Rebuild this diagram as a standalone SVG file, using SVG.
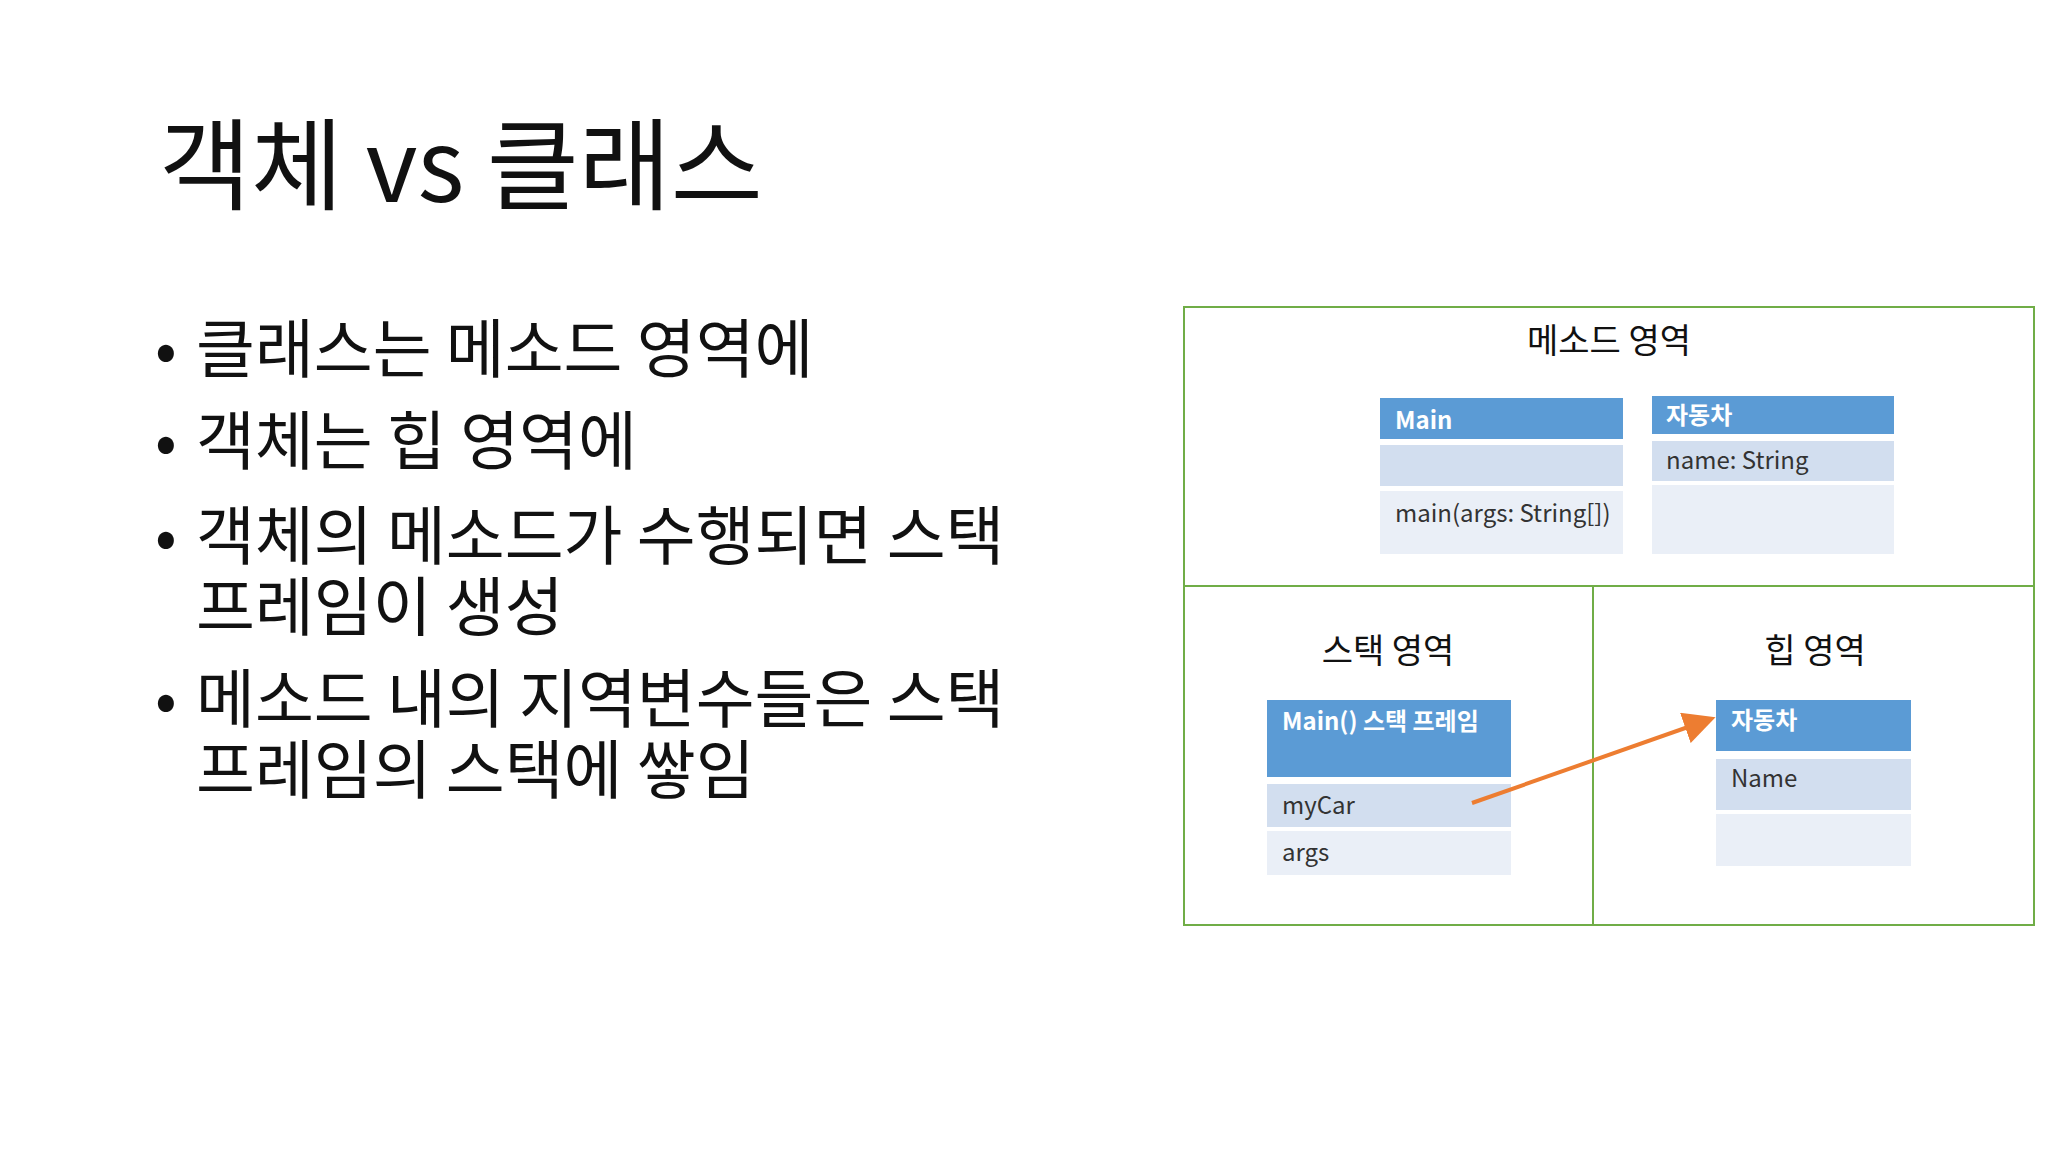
<svg xmlns="http://www.w3.org/2000/svg" width="2048" height="1152" viewBox="0 0 2048 1152">
<style>
text{font-family:"Noto Sans CJK KR","Noto Sans",sans-serif;}
.t{font-size:100px;fill:#111}
.b{font-size:64px;fill:#111}
.a{font-size:34px;fill:#111;text-anchor:middle}
.h{fill:#5B9BD5}
.r1{fill:#D2DEEF}
.r2{fill:#EAEFF7}
.ht{font-size:24px;fill:#fff;font-weight:bold}
.rt{font-size:24px;fill:#333}
.ln{stroke:#70AD47;stroke-width:2;fill:none}
</style>
<defs><marker id="ar" markerWidth="8" markerHeight="8" refX="6" refY="4" orient="auto" markerUnits="strokeWidth"><path d="M0,0L8,4L0,8z" fill="#ED7D31"/></marker></defs>
<rect width="2048" height="1152" fill="#fff"/>
<g id="title"><text class="t" x="159" y="202">객체 vs 클래스</text></g>
<g id="bullets">
<text class="b" x="155" y="372">•</text><text class="b" x="196" y="372">클래스는 메소드 영역에</text>
<text class="b" x="155" y="464">•</text><text class="b" x="196" y="464">객체는 힙 영역에</text>
<text class="b" x="155" y="559">•</text><text class="b" x="196" y="559">객체의 메소드가 수행되면 스택</text>
<text class="b" x="196" y="630">프레임이 생성</text>
<text class="b" x="155" y="722">•</text><text class="b" x="196" y="722">메소드 내의 지역변수들은 스택</text>
<text class="b" x="196" y="793">프레임의 스택에 쌓임</text>
</g>
<g id="areas">
<rect class="ln" x="1184" y="307" width="850" height="618"/>
<line class="ln" x1="1184" y1="586" x2="2034" y2="586"/>
<line class="ln" x1="1593" y1="586" x2="1593" y2="925"/>
<text class="a" x="1609" y="353">메소드 영역</text>
<text class="a" x="1388" y="663">스택 영역</text>
<text class="a" x="1815" y="663">힙 영역</text>
</g>
<g id="mainClass">
<rect class="h" x="1380" y="398" width="243" height="41"/><text class="ht" x="1395" y="429">Main</text>
<rect class="r1" x="1380" y="445" width="243" height="41"/>
<rect class="r2" x="1380" y="491" width="243" height="63"/><text class="rt" x="1395" y="522">main(args: String[])</text>
</g>
<g id="carClass">
<rect class="h" x="1652" y="396" width="242" height="38"/><text class="ht" x="1666" y="424">자동차</text>
<rect class="r1" x="1652" y="441" width="242" height="40"/><text class="rt" x="1666" y="469">name: String</text>
<rect class="r2" x="1652" y="485" width="242" height="69"/>
</g>
<g id="stackFrame">
<rect class="h" x="1267" y="700" width="244" height="77"/><text class="ht" x="1282" y="730">Main() 스택 프레임</text>
<rect class="r1" x="1267" y="784" width="244" height="43"/><text class="rt" x="1282" y="814">myCar</text>
<rect class="r2" x="1267" y="831" width="244" height="44"/><text class="rt" x="1282" y="861">args</text>
</g>
<g id="carObject">
<rect class="h" x="1716" y="700" width="195" height="51"/><text class="ht" x="1731" y="729">자동차</text>
<rect class="r1" x="1716" y="759" width="195" height="51"/><text class="rt" x="1731" y="787">Name</text>
<rect class="r2" x="1716" y="814" width="195" height="52"/>
</g>
<g id="connectors">
<line x1="1472" y1="803" x2="1708" y2="720" stroke="#ED7D31" stroke-width="4" marker-end="url(#ar)"/>
</g>
</svg>
